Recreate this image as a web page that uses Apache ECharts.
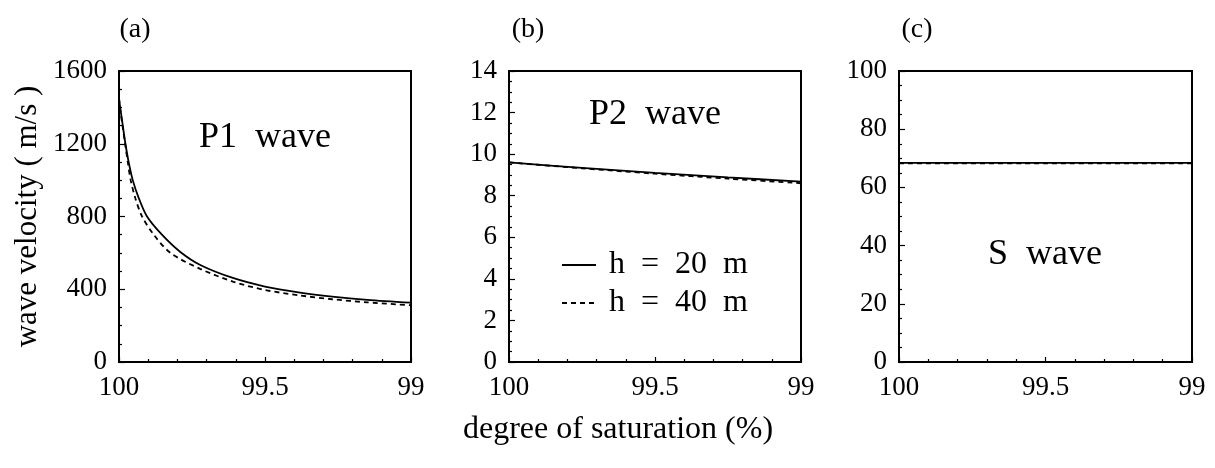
<!DOCTYPE html>
<html>
<head>
<meta charset="utf-8">
<script src="https://cdn.jsdelivr.net/npm/echarts@6/dist/echarts.min.js"></script>
<style>
html,body{margin:0;padding:0;background:#fff;}
#chart{width:1215px;height:468px;}
</style>
</head>
<body>
<div id="chart"></div>
<script>
// ---- data ----
// Panel (a) P1 wave
const satP1Solid = [100, 99.996, 99.987, 99.978, 99.967, 99.953, 99.932, 99.904, 99.853, 99.79, 99.72, 99.61, 99.5, 99.38, 99.27, 99.15, 99];
const velP1Solid = [1450, 1400, 1300, 1200, 1100, 1000, 900, 800, 700, 605, 532, 462, 415, 382, 360, 342, 326];
const satP1Dashed = [100, 99.996, 99.988, 99.979, 99.97, 99.96, 99.944, 99.921, 99.881, 99.824, 99.722, 99.608, 99.5, 99.38, 99.27, 99.15, 99];
const velP1Dashed = [1450, 1390, 1300, 1200, 1100, 1000, 900, 800, 700, 600, 512, 441, 396, 366, 345, 328, 312];
// Panel (b) P2 wave
const satP2 = [100, 99.75, 99.5, 99.25, 99];
const velP2Solid = [9.6, 9.34, 9.1, 8.88, 8.68];
const velP2Dashed = [9.6, 9.32, 9.06, 8.82, 8.6];
// Panel (c) S wave
const satS = [100, 99.5, 99];
const velSSolid = [68.4, 68.4, 68.4];
const velSDashed = [68.3, 68.3, 68.3];
// axes
const yMax = [1600, 14, 100];
const yInterval = [400, 2, 20];
const panelLabels = ['(a)', '(b)', '(c)'];
const waveLabels = ['P1  wave', 'P2  wave', 'S  wave'];
const legendNames = ['h  =  20  m', 'h  =  40  m'];
const yTitle = 'wave velocity ( m/s )';
const xTitle = 'degree of saturation (%)';

const FONT = 'Liberation Serif';
const zip = (xs, ys) => xs.map((x, i) => [x, ys[i]]);

const gridPos = [
  {left: 119, top: 71, width: 292, height: 291},
  {left: 509, top: 71, width: 292, height: 291},
  {left: 899, top: 71, width: 293, height: 291}
];

const grids = gridPos.map(g => Object.assign({show: true, borderColor: '#000', borderWidth: 2, backgroundColor: 'transparent'}, g));

const labelStyle = {color: '#000', fontFamily: FONT, fontSize: 27, margin: 12, formatter: v => String(v)};

const xAxes = gridPos.map((g, i) => ({
  gridIndex: i, type: 'value', min: 99, max: 100, interval: 0.5, inverse: true,
  name: i === 1 ? xTitle : '', nameLocation: 'middle', nameGap: 52,
  nameTextStyle: {color: '#000', fontFamily: FONT, fontSize: 32, padding: [0, 74, 0, 0]},
  axisLine: {show: true, lineStyle: {color: '#000', width: 2}},
  axisTick: {show: true, inside: true, length: 5, lineStyle: {color: '#000', width: 1.2}},
  minorTick: {show: true, splitNumber: 5, length: 3, lineStyle: {color: '#000', width: 1.2}},
  splitLine: {show: false},
  axisLabel: Object.assign({}, labelStyle)
}));

const yAxes = gridPos.map((g, i) => ({
  gridIndex: i, type: 'value', min: 0, max: yMax[i], interval: yInterval[i],
  name: i === 0 ? yTitle : '', nameLocation: 'middle', nameGap: 76,
  nameTextStyle: {color: '#000', fontFamily: FONT, fontSize: 31},
  axisLine: {show: true, lineStyle: {color: '#000', width: 2}},
  axisTick: {show: true, inside: true, length: 6, lineStyle: {color: '#000', width: 1.2}},
  minorTick: {show: true, splitNumber: 4, length: 3, lineStyle: {color: '#000', width: 1.2}},
  splitLine: {show: false},
  axisLabel: Object.assign({}, labelStyle)
}));

const solidStyle = {color: '#000', width: 1.8, type: 'solid'};
const dashStyle = {color: '#000', width: 1.8, type: [5, 4]};
const mk = (name, i, data, style) => ({
  name, type: 'line', xAxisIndex: i, yAxisIndex: i, data,
  showSymbol: false, symbol: 'none', smooth: 0.3, lineStyle: style, itemStyle: {color: '#000'},
  animation: false, z: style.type === 'solid' ? 3 : 2
});

const series = [
  mk(legendNames[0], 0, zip(satP1Solid, velP1Solid), solidStyle),
  mk(legendNames[1], 0, zip(satP1Dashed, velP1Dashed), dashStyle),
  mk(legendNames[0], 1, zip(satP2, velP2Solid), solidStyle),
  mk(legendNames[1], 1, zip(satP2, velP2Dashed), dashStyle),
  mk(legendNames[0], 2, zip(satS, velSSolid), solidStyle),
  mk(legendNames[1], 2, zip(satS, velSDashed), dashStyle)
];

const panelLabelPos = [[135, 30], [528, 30], [917, 30]];
const wavePos = [[265, 138], [655, 115], [1045, 255]];
const graphics = [];
panelLabels.forEach((t, i) => graphics.push({type: 'text', x: panelLabelPos[i][0], y: panelLabelPos[i][1],
  style: {text: t, fill: '#000', fontFamily: FONT, fontSize: 28, align: 'center', verticalAlign: 'middle'}}));
waveLabels.forEach((t, i) => graphics.push({type: 'text', x: wavePos[i][0], y: wavePos[i][1],
  style: {text: t, fill: '#000', fontFamily: FONT, fontSize: 36, align: 'center', verticalAlign: 'middle'}}));

const chart = echarts.init(document.getElementById('chart'), null, {renderer: 'canvas'});
chart.setOption({
  animation: false,
  backgroundColor: '#fff',
  textStyle: {fontFamily: FONT, color: '#000'},
  grid: grids,
  xAxis: xAxes,
  yAxis: yAxes,
  legend: {
    data: legendNames, orient: 'vertical', left: 556, top: 244,
    itemWidth: 34, itemHeight: 14, itemGap: 6,
    itemStyle: {opacity: 0},
    textStyle: {color: '#000', fontFamily: FONT, fontSize: 32, padding: [0, 0, 0, 8]},
    inactiveColor: '#999'
  },
  series,
  graphic: graphics
});
</script>
</body>
</html>
